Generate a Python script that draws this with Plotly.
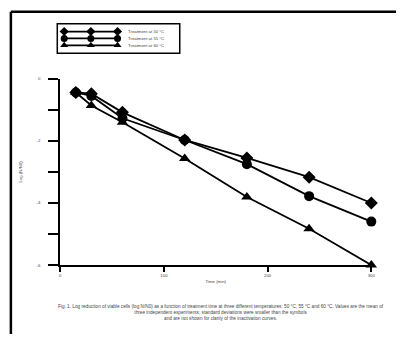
import plotly.graph_objects as go

# Treatment time (min) and log reduction for the three temperatures
time_min = [15, 30, 60, 120, 180, 240, 300]
series_names = ["Treatment at 50 °C", "Treatment at 55 °C", "Treatment at 60 °C"]
log_50 = [-0.44, -0.48, -1.08, -1.97, -2.55, -3.17, -4.00]
log_55 = [-0.44, -0.55, -1.27, -1.97, -2.75, -3.78, -4.60]
log_60 = [-0.44, -0.86, -1.40, -2.57, -3.81, -4.83, -6.00]
symbols = ["diamond", "circle", "triangle-up"]

y_tickvals = [0, -1, -2, -3, -4, -5, -6]
y_ticktext = ["0", "", "-2", "", "-4", "", "-6"]
x_tickvals = [0, 100, 200, 300]

W, H = 400, 337
TXT = "#444"

fig = go.Figure()

for name, vals, sym in zip(series_names, [log_50, log_55, log_60], symbols):
    fig.add_trace(go.Scatter(
        x=time_min, y=vals, name=name, mode="lines+markers",
        line=dict(color="black", width=1.8),
        marker=dict(symbol=sym, size=10, color="black"),
        cliponaxis=False, showlegend=False,
        xaxis="x", yaxis="y",
    ))

# Key drawn on its own small axes (pixel-like units)
legend_rows = [30, 37, 44]
for name, sym, row in zip(series_names, symbols, legend_rows):
    fig.add_trace(go.Scatter(
        x=[64, 91, 118], y=[row, row, row], mode="lines+markers",
        line=dict(color="black", width=1.8),
        marker=dict(symbol=sym, size=7, color="black"),
        cliponaxis=False, showlegend=False, hoverinfo="skip",
        xaxis="x2", yaxis="y2",
    ))
    fig.add_annotation(x=127, y=row, xref="x2", yref="y2", text=name,
                       showarrow=False, xanchor="left", yanchor="middle",
                       font=dict(size=4.3, color=TXT, family="Arial"))

fig.add_shape(type="rect", xref="x2 domain", yref="y2 domain",
              x0=0, x1=1, y0=0, y1=1, line=dict(color="black", width=1.5))

# Figure frame: top and left rules
fig.add_shape(type="line", xref="paper", yref="paper",
              x0=10 / W, x1=1.0, y0=(H - 10) / H, y1=(H - 10) / H,
              line=dict(color="black", width=2.5))
fig.add_shape(type="line", xref="paper", yref="paper",
              x0=10 / W, x1=10 / W, y0=0, y1=(H - 10) / H,
              line=dict(color="black", width=2.5))

caption = ("Fig. 1. Log reduction of viable cells (log N/N0) as a function of treatment time at three "
           "different temperatures: 50 °C, 55 °C and 60 °C. Values are the mean of<br>"
           "three independent experiments; standard deviations were smaller than the symbols<br>"
           "and are not shown for clarity of the inactivation curves.")
fig.add_annotation(x=223 / W, y=(H - 315) / H, xref="paper", yref="paper",
                   text=caption, showarrow=False, align="center",
                   xanchor="center", yanchor="middle",
                   font=dict(size=4.7, color=TXT, family="Arial"))

axis_common = dict(showgrid=False, zeroline=False, showline=True,
                   linecolor="black", linewidth=2, ticks="outside",
                   tickcolor="black", tickwidth=1.5,
                   tickfont=dict(size=4.3, color=TXT, family="Arial"))

fig.update_layout(
    width=W, height=H,
    margin=dict(l=0, r=0, t=0, b=0),
    paper_bgcolor="white", plot_bgcolor="white",
    xaxis=dict(domain=[60 / W, 375 / W], range=[0, 300],
               tickvals=x_tickvals, ticklen=5, anchor="y",
               title=dict(text="Time (min)", standoff=3,
                          font=dict(size=4.3, color=TXT, family="Arial")),
               **axis_common),
    yaxis=dict(domain=[(H - 267) / H, (H - 78) / H], range=[-6, 0],
               tickvals=y_tickvals, ticktext=y_ticktext, ticklen=10,
               ticklabelstandoff=7, anchor="x",
               title=dict(text="Log (N/N0)", standoff=14,
                          font=dict(size=4.3, color=TXT, family="Arial")),
               **axis_common),
    xaxis2=dict(domain=[57 / W, 181 / W], range=[57, 181], visible=False,
                anchor="y2"),
    yaxis2=dict(domain=[(H - 52) / H, (H - 22) / H], range=[52, 22],
                visible=False, anchor="x2"),
)

fig.write_html("out.html")
